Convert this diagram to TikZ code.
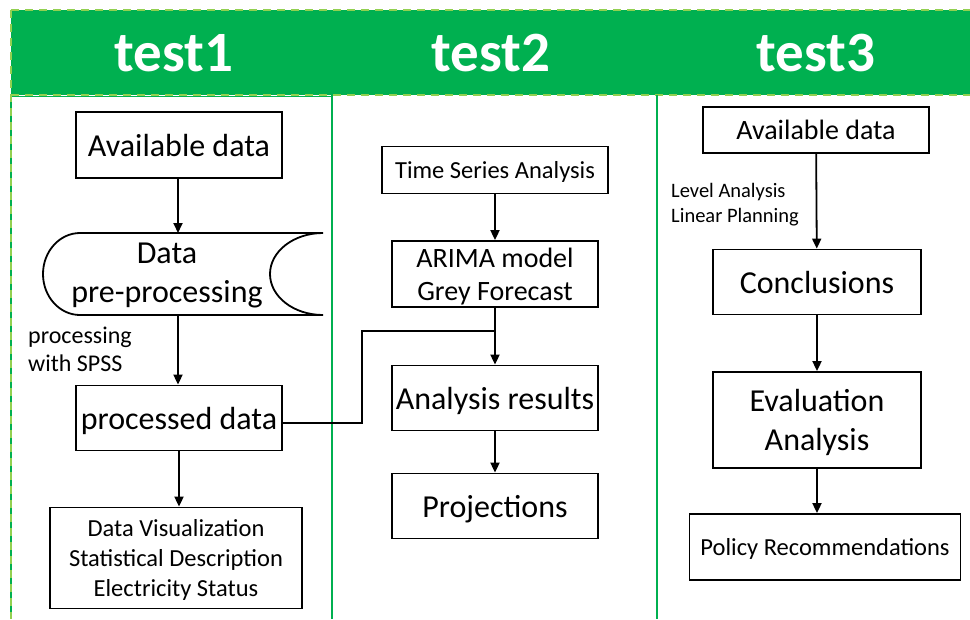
\documentclass[tikz,border=0pt]{standalone}
\usepackage{fontspec}
\setmainfont{Carlito}
\usetikzlibrary{arrows.meta}
\definecolor{hdgreen}{HTML}{00B050}
\definecolor{ltgreen}{HTML}{92D050}
\tikzset{
  box/.style={draw=black, line width=1.8pt, inner sep=0pt, align=center, fill=white, text depth=0pt},
  big/.style={font=\fontsize{32}{38}\selectfont},
  mid/.style={font=\fontsize{24.5}{30}\selectfont},
  small/.style={font=\fontsize{24.5}{30}\selectfont},
  lbl/.style={font=\fontsize{20.5}{25}\selectfont, align=left, anchor=west, inner sep=0pt},
  head/.style={font=\fontsize{57}{60}\selectfont\bfseries, text=white},
  arr/.style={line width=1.8pt, -{Triangle[length=10pt,width=9pt]}},
  conn/.style={line width=1.8pt},
  colline/.style={hdgreen, line width=1.2pt},
  dashline/.style={ltgreen, line width=1.6pt, dash pattern=on 8pt off 6pt}
}
\begin{document}
\begin{tikzpicture}[x=1pt,y=-1pt]
\useasboundingbox (0,0) rectangle (970,619);
\fill[white] (0,0) rectangle (970,619);
% header
\fill[hdgreen] (11,10) rectangle (970,95);
\draw[dashline] (11,10) -- (970,10);
\draw[dashline] (11,95) -- (970,95);
% column lines
\draw[colline, line width=0.8pt] (12,96) -- (332,96);
\draw[colline] (11,95) -- (11,619);
\draw[dashline] (11,10) -- (11,619);
\draw[colline] (332,95) -- (332,619);
\draw[colline, line width=1.6pt] (657,95) -- (657,619);
% header texts
\node[head] (h1) at (174,53) {test1};
\node[head] (h2) at (491,53) {test2};
\node[head] (h3) at (816,53) {test3};
% column 1
\node[box, big, minimum width=206pt, minimum height=66pt] (a1) at (179,145) {Available data};
\coordinate (pretop) at (178,233);
\coordinate (prebot) at (178,315);
\draw[line width=1.8pt, fill=white] (323,233) -- (80,233)
  .. controls (59.6,233) and (43,251.4) .. (43,274)
  .. controls (43,296.6) and (59.6,315) .. (80,315)
  -- (323,315)
  .. controls (293.7,315) and (270,296.6) .. (270,274)
  .. controls (270,251.4) and (293.7,233) .. (323,233);
\node[big, align=center] (pre) at (167,275) {Data\\[1pt]pre-processing};
\node[box, big, minimum width=206pt, minimum height=65pt] (pd) at (179,418) {processed data};
\node[box, small, minimum width=252pt, minimum height=101pt] (dv) at (176,558) {Data Visualization\\Statistical Description\\Electricity Status};
\node[font=\fontsize{24}{28}\selectfont, align=left, anchor=west, inner sep=0pt] (l1) at (28,349) {processing\\with SPSS};
\draw[arr] (a1.south -| pretop) -- (pretop);
\draw[arr] (prebot) -- (prebot |- pd.north);
\draw[arr] (pd.south) -- (pd.south |- dv.north);
% column 2
\node[box, small, minimum width=226pt, minimum height=47pt] (ts) at (495,170) {Time Series Analysis};
\node[box, font=\fontsize{28}{33}\selectfont, minimum width=206pt, minimum height=66pt] (ar) at (495,274) {ARIMA model\\Grey Forecast};
\node[box, big, minimum width=206pt, minimum height=65pt] (res) at (495,398) {Analysis results};
\node[box, big, minimum width=206pt, minimum height=65pt] (proj) at (495,506) {Projections};
\draw[arr] (ts) -- (ar);
\draw[arr] (ar) -- (res);
\draw[arr] (res) -- (proj);
\coordinate (j0) at (362,423);
\coordinate (j1) at (362,331);
\coordinate (j2) at (495,331);
\draw[conn] (pd.east |- j0) -- (j0) -- (j1) -- (j2);
% column 3
\node[box, font=\fontsize{28}{33}\selectfont, minimum width=226pt, minimum height=46pt] (a3) at (816,130) {Available data};
\node[box, big, minimum width=208pt, minimum height=65pt] (con) at (817,282) {Conclusions};
\node[box, big, minimum width=208pt, minimum height=96pt] (ev) at (817,420) {Evaluation\\[1pt]Analysis};
\node[box, mid, minimum width=271pt, minimum height=66pt] (pol) at (825,547) {Policy Recommendations};
\node[lbl] (l3) at (671,205) {Level Analysis\\Linear Planning};
\draw[arr] (a3) -- (con);
\draw[arr] (con) -- (ev);
\draw[arr] (ev.south) -- (ev.south |- pol.north);
\end{tikzpicture}
\end{document}
